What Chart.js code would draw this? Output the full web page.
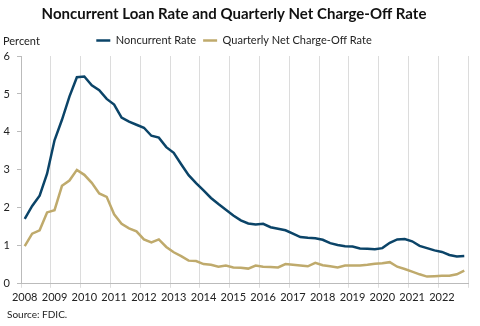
<!DOCTYPE html>
<html>
<head>
<meta charset="utf-8">
<script src="https://cdn.jsdelivr.net/npm/chart.js@4.4.0/dist/chart.umd.min.js"></script>
<style>
    body { margin: 0; background: #fff; font-family: 'Lato', sans-serif; }
    .wrap { position: relative; width: 480px; height: 326px; }
    .source { position: absolute; left: 7px; top: 308px; font-size: 10px; color: #222; }
</style>
</head>
<body>
<div class="wrap">
    <canvas id="lossChart" width="480" height="326"></canvas>
    <div class="source">Source: FDIC.</div>
</div>
<script>
// quarters 2008Q1 - 2022Q4
const quarters = [];
for (let y = 2008; y <= 2022; y++) {
    for (let q = 1; q <= 4; q++) quarters.push(y + 'Q' + q);
}

const noncurrentRate = [
    1.71, 2.05, 2.32, 2.90, 3.78, 4.32, 4.93, 5.44,
    5.46, 5.23, 5.10, 4.87, 4.72, 4.38, 4.27, 4.19,
    4.11, 3.90, 3.85, 3.60, 3.45, 3.15, 2.86, 2.65,
    2.46, 2.26, 2.10, 1.95, 1.80, 1.67, 1.59, 1.56,
    1.58, 1.49, 1.45, 1.41, 1.32, 1.23, 1.21, 1.20,
    1.16, 1.07, 1.02, 0.99, 0.98, 0.93, 0.92, 0.91,
    0.94, 1.08, 1.17, 1.18, 1.12, 1.00, 0.94, 0.88,
    0.84, 0.76, 0.72, 0.73
];

const chargeOffRate = [
    0.99, 1.32, 1.41, 1.88, 1.94, 2.58, 2.72, 3.00,
    2.87, 2.66, 2.38, 2.29, 1.83, 1.58, 1.46, 1.38,
    1.17, 1.09, 1.17, 0.97, 0.83, 0.73, 0.61, 0.60,
    0.52, 0.50, 0.45, 0.48, 0.43, 0.42, 0.40, 0.48,
    0.45, 0.44, 0.43, 0.52, 0.50, 0.48, 0.46, 0.55,
    0.49, 0.46, 0.43, 0.48, 0.48, 0.48, 0.50, 0.53,
    0.54, 0.57, 0.45, 0.39, 0.32, 0.25, 0.19, 0.20,
    0.21, 0.21, 0.25, 0.35
];

const yTicks = [0, 1, 2, 3, 4, 5, 6];

const NAVY = '#0B4468';
const TAN = '#BFAA6C';

Chart.defaults.font.family = "'Lato', sans-serif";
Chart.defaults.color = '#222';

// "Percent" label over the y axis
const percentLabel = {
    id: 'percentLabel',
    afterDraw(chart) {
        const c = chart.ctx;
        c.save();
        c.font = "11px 'Lato', sans-serif";
        c.fillStyle = '#222';
        c.textBaseline = 'middle';
        c.textAlign = 'left';
        c.fillText('Percent', 3, 41);
        c.restore();
    }
};

new Chart(document.getElementById('lossChart'), {
    type: 'line',
    data: {
        labels: quarters,
        datasets: [{
            label: 'Noncurrent Rate',
            data: noncurrentRate,
            borderColor: NAVY,
            backgroundColor: NAVY,
            borderWidth: 2.5,
            pointRadius: 0,
            tension: 0
        }, {
            label: 'Quarterly Net Charge-Off Rate',
            data: chargeOffRate,
            borderColor: TAN,
            backgroundColor: TAN,
            borderWidth: 2.5,
            pointRadius: 0,
            tension: 0
        }]
    },
    options: {
        responsive: false,
        animation: false,
        layout: { padding: { top: 4, right: 12, left: 0, bottom: 19 } },
        plugins: {
            title: {
                display: true,
                text: 'Noncurrent Loan Rate and Quarterly Net Charge-Off Rate',
                font: { size: 15, weight: 'bold' },
                color: '#111',
                padding: { top: 1, bottom: 5 }
            },
            legend: {
                labels: {
                    usePointStyle: true,
                    pointStyle: 'line',
                    pointStyleWidth: 14,
                    boxHeight: 8,
                    font: { size: 11 },
                    padding: 7
                }
            },
            tooltip: { enabled: false }
        },
        scales: {
            x: {
                offset: true,
                grid: {
                    offset: true,
                    drawTicks: true,
                    tickLength: 4,
                    color: (ctx) => (ctx.index === undefined || ctx.index % 4 === 0) ? '#dcdcdc' : 'rgba(0,0,0,0)'
                },
                border: { display: true, color: '#bbb' },
                ticks: {
                    autoSkip: false,
                    maxRotation: 0,
                    padding: 3,
                    font: { size: 11 },
                    callback: function(v) {
                        const l = this.getLabelForValue(v);
                        return l.endsWith('Q1') ? l.slice(0, 4) : '';
                    }
                }
            },
            y: {
                min: 0,
                max: 6,
                afterFit: (s) => { s.width = 21; },
                afterBuildTicks: (s) => { s.ticks = yTicks.map(v => ({ value: v })); },
                grid: { drawOnChartArea: false, drawTicks: true, tickLength: 4, color: '#bbb' },
                border: { display: true, color: '#bbb' },
                ticks: { padding: 7, font: { size: 11 } }
            }
        }
    },
    plugins: [percentLabel]
});
</script>
</body>
</html>
